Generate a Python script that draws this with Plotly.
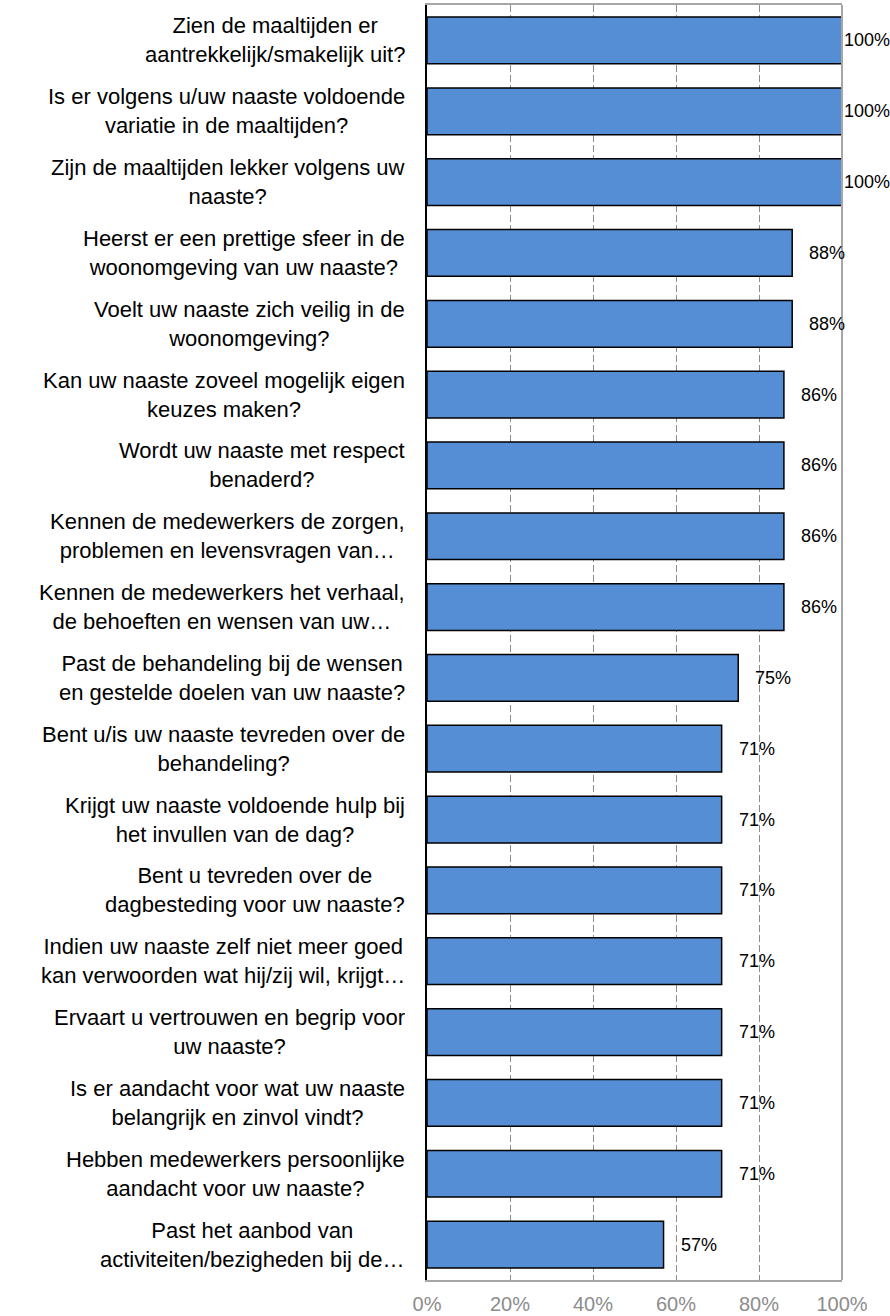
import plotly.graph_objects as go

categories = [
    "Zien de maaltijden er<br>aantrekkelijk/smakelijk uit?",
    "Is er volgens u/uw naaste voldoende<br>variatie in de maaltijden?",
    "Zijn de maaltijden lekker volgens uw<br>naaste?",
    "Heerst er een prettige sfeer in de<br>woonomgeving van uw naaste?",
    "Voelt uw naaste zich veilig in de<br>woonomgeving?",
    "Kan uw naaste zoveel mogelijk eigen<br>keuzes maken?",
    "Wordt uw naaste met respect<br>benaderd?",
    "Kennen de medewerkers de zorgen,<br>problemen en levensvragen van…",
    "Kennen de medewerkers het verhaal,<br>de behoeften en wensen van uw…",
    "Past de behandeling bij de wensen<br>en gestelde doelen van uw naaste?",
    "Bent u/is uw naaste tevreden over de<br>behandeling?",
    "Krijgt uw naaste voldoende hulp bij<br>het invullen van de dag?",
    "Bent u tevreden over de<br>dagbesteding voor uw naaste?",
    "Indien uw naaste zelf niet meer goed<br>kan verwoorden wat hij/zij wil, krijgt…",
    "Ervaart u vertrouwen en begrip voor<br>uw naaste?",
    "Is er aandacht voor wat uw naaste<br>belangrijk en zinvol vindt?",
    "Hebben medewerkers persoonlijke<br>aandacht voor uw naaste?",
    "Past het aanbod van<br>activiteiten/bezigheden bij de…",
]
values = [100, 100, 100, 88, 88, 86, 86, 86, 86, 75, 71, 71, 71, 71, 71, 71, 71, 57]
x_ticks = [0, 20, 40, 60, 80, 100]
x_ticklabels = ["0%", "20%", "40%", "60%", "80%", "100%"]

FONT = "Liberation Sans, Arial, sans-serif"
ids = list(range(len(categories)))

fig = go.Figure()
fig.add_trace(go.Bar(
    x=values, y=ids, orientation="h",
    marker=dict(color="#558ED5", line=dict(color="#000000", width=1.5)),
    hoverinfo="skip",
))

annotations = []
for i, (c, v) in enumerate(zip(categories, values)):
    annotations.append(dict(
        x=0, xref="paper", y=i, yref="y", text=c, showarrow=False,
        xanchor="right", yanchor="middle", align="center", xshift=-20,
        font=dict(family=FONT, size=22, color="#000000"),
    ))
    annotations.append(dict(
        x=v, xref="x", y=i, yref="y", text=f"{v}%", showarrow=False,
        xanchor="left", yanchor="middle", xshift=(15 if v < 100 else 0),
        font=dict(family=FONT, size=18, color="#000000"),
    ))

fig.update_layout(
    width=890, height=1316,
    margin=dict(l=427, r=48, t=5, b=36, autoexpand=False),
    paper_bgcolor="white", plot_bgcolor="white",
    showlegend=False,
    bargap=0.34,
    annotations=annotations,
    xaxis=dict(
        range=[0, 100], tickvals=x_ticks, ticktext=x_ticklabels,
        showgrid=True, gridcolor="#8c8c8c", gridwidth=1, griddash="7px,3px",
        showline=True, linecolor="#a6a6a6", linewidth=2, mirror=True,
        zeroline=False, ticks="", ticklabelstandoff=5, automargin=False,
        tickfont=dict(family=FONT, size=20, color="#8c8c8c"),
        fixedrange=True,
    ),
    yaxis=dict(
        range=[len(categories) - 0.5, -0.5],
        showticklabels=False, showgrid=False, zeroline=False, ticks="",
        showline=True, linecolor="#000000", linewidth=2, automargin=False,
        fixedrange=True,
    ),
)
fig.add_shape(type="line", xref="paper", yref="paper", x0=1, x1=1, y0=0, y1=1,
              line=dict(color="#a6a6a6", width=2))

fig.write_html("out.html")
